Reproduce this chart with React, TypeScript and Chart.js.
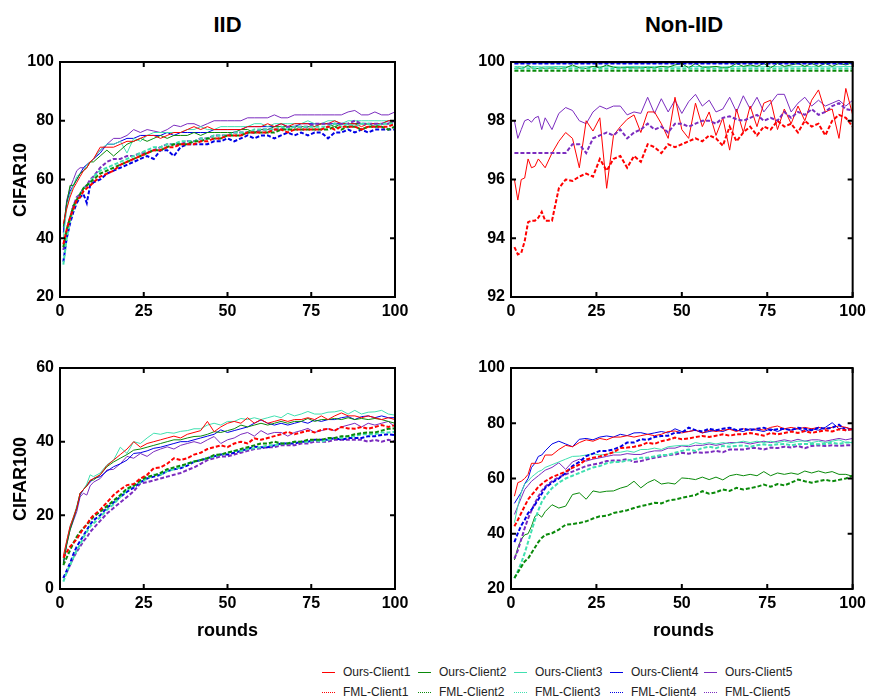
import React, { useEffect, useRef } from "react";
import { Chart, registerables } from "chart.js";
Chart.register(...registerables);

// ---------- rounds (x values) ----------
const ROUNDS = [1,2,3,4,5,6,7,8,9,10, 12,14,16,18,20,22,24,26,28,30, 32,34,36,38,40,42,44,46,48,50, 52,54,56,58,60,62,64,66,68,70, 72,74,76,78,80,82,84,86,88,90, 92,94,96,98,100];

// ---------- IID / CIFAR10 ----------
const iid10Ours1 = [45,50,54,57,59,61,63,64,66,67, 71,71,71,72,73,73,74,75,75,74, 75,76,76,77,78,77,78,77,77,77, 77,77,78,78,78,79,78,79,78,79, 79,79,78,79,79,80,79,79,79,78, 79,79,79,80,80];
const iid10Ours2 = [44,52,58,58,60,62,63,64,66,66, 68,70,68,70,72,73,74,73,74,75, 74,75,75,75,76,75,76,76,76,76, 76,77,77,76,77,77,78,78,78,78, 78,78,78,79,79,78,79,79,79,79, 79,78,79,79,80];
const iid10Ours3 = [40,50,55,58,61,62,63,65,66,67, 70,72,72,73,69,74,73,75,76,76, 76,76,76,77,77,78,77,77,78,78, 78,78,78,79,79,78,79,79,79,79, 79,80,79,79,80,80,79,80,80,80, 80,80,80,80,80];
const iid10Ours4 = [42,52,56,58,60,62,64,65,66,67, 69,72,72,73,74,74,75,75,75,75, 76,75,76,76,76,76,76,77,77,77, 77,77,78,78,78,78,78,79,78,78, 79,79,79,79,79,79,79,79,79,79, 79,79,79,80,80];
const iid10Ours5 = [42,53,57,60,63,64,64,65,66,67, 70,72,74,74,75,77,76,77,76.5,76, 77,78.5,78,79,79,78,79,80,80,80, 80,80,81,81,81,81,82,81,81,82, 82,82,82,82,82,82,82,83,83.5,82, 82,83,82,82,83];
const iid10Fml1 = [38,43,47,50,53,54,56,57,58,59, 61,62,63,65,66,67,68,69,70,70, 71,71,72,72,72,73,73,74,74,75, 75,75,76,76,76,76,77,77,76,77, 77,77,77,77,78,77,78,78,78,77, 78,78,78,78,79];
const iid10Fml2 = [37,43,47,51,53,55,57,58,59,60, 62,63,64,65,66,67,68,69,70,70, 71,72,72,72,73,73,74,74,74,75, 75,75,76,76,76,76,76,77,77,77, 77,77,77,77,77,78,77,78,78,77, 78,78,78,77,78];
const iid10Fml3 = [31,40,46,50,53,55,57,58,59,61, 63,64,65,66,67,68,69,70,71,71, 72,72,73,73,73,74,74,75,75,75, 76,76,76,77,77,77,77,78,77,78, 78,78,78,78,78,79,78,79,78,79, 79,78,79,79,79];
const iid10Fml4 = [32,40,45,49,52,54,55,52,58,59, 60,62,63,64,65,66,67,68,67,70, 70,68,71,72,72,72,72,73,73,74, 73,74,75,74,75,75,74,75,76,75, 76,75,76,76,74,76,76,77,76,77, 76,77,77,77,77];
const iid10Fml5 = [36,42,47,51,54,55,57,58,60,61, 64,66,67,67,68,68,69,69,70,71, 72,72,72,73,73,74,74,75,75,75, 76,76,76,76,77,77,77,77,78,78, 78,78,79,79,79,79,79,79,80,79, 79,79,79,79,80];

// ---------- Non-IID / CIFAR10 ----------
const non10Ours1 = [96.0,95.3,96.0,96.05,96.7,96.4,96.45,96.7,96.55,96.4, 96.9,97.3,97.6,97.4,96.4,98.0,97.65,98.1,95.7,97.5, 97.8,98.05,98.2,97.6,98.3,98.3,97.9,97.4,98.8,97.7, 97.4,98.6,97.8,98.3,97.5,98.1,97.0,98.4,97.6,98.5, 97.8,98.6,98.7,97.7,98.4,97.9,98.5,98.0,98.7,99.05, 98.3,98.4,97.4,99.1,98.2];
const non10Ours2 = [99.78,99.8,99.78,99.82,99.9,99.8,99.78,99.78,99.8,99.78, 99.8,99.78,99.8,99.9,99.8,99.78,99.85,99.8,99.9,99.82, 99.8,99.82,99.8,99.8,99.82,99.8,99.85,99.82,99.9,99.95, 99.8,99.95,99.82,99.82,99.85,99.8,99.82,99.95,99.85,99.9, 99.85,99.95,99.8,99.95,99.85,99.9,99.95,99.85,99.95,99.85, 99.95,99.85,99.95,99.9,99.98];
const non10Ours3 = [99.84,99.85,99.84,99.83,99.84,99.85,99.84,99.84,99.83,99.84, 99.84,99.85,99.84,99.84,99.83,99.84,99.85,99.84,99.84,99.84, 99.83,99.84,99.85,99.84,99.84,99.84,99.85,99.84,99.83,99.84, 99.84,99.85,99.84,99.84,99.84,99.83,99.84,99.85,99.84,99.84, 99.84,99.84,99.85,99.84,99.83,99.84,99.84,99.85,99.84,99.84, 99.84,99.83,99.84,99.85,99.84];
const non10Ours4 = [99.97,99.97,99.97,99.97,99.97,99.97,99.97,99.97,99.97,99.97, 99.97,99.97,99.97,99.97,99.97,99.97,99.97,99.97,99.97,99.97, 99.97,99.97,99.97,99.97,99.97,99.97,99.97,99.97,99.97,99.97, 99.97,99.97,99.97,99.97,99.97,99.97,99.97,99.97,99.97,99.97, 99.97,99.97,99.97,99.97,99.97,99.97,99.97,99.97,99.97,99.97, 99.97,99.97,99.97,99.97,99.97];
const non10Ours5 = [98.0,97.4,97.7,98.0,98.05,97.95,98.1,98.15,97.7,98.1, 97.7,98.25,98.45,98.35,98.0,97.9,98.3,98.5,98.4,98.5, 98.5,98.2,98.3,98.25,98.8,98.25,98.75,98.3,98.7,98.25, 98.65,98.9,98.5,98.7,98.3,98.4,98.8,98.3,98.85,98.4, 98.8,98.3,98.6,98.9,98.9,98.3,98.6,98.8,98.5,98.7, 98.5,98.6,98.7,98.5,98.7];
const non10Fml1 = [93.7,93.45,93.5,93.9,94.55,94.6,94.6,94.7,94.9,94.6, 94.6,95.7,96.0,95.95,96.1,96.2,96.1,96.7,96.3,96.7, 96.8,96.4,96.8,96.6,97.2,97.1,96.9,97.2,97.1,97.2, 97.3,97.4,97.3,97.5,97.4,97.15,97.8,97.3,97.6,97.8, 97.5,97.8,97.7,98.0,97.8,97.9,97.6,98.0,97.8,97.9, 97.5,98.0,98.2,98.1,97.8];
const non10Fml2 = [99.7,99.7,99.7,99.7,99.7,99.7,99.7,99.7,99.7,99.7, 99.7,99.7,99.7,99.7,99.7,99.7,99.7,99.7,99.7,99.7, 99.7,99.7,99.7,99.7,99.7,99.7,99.7,99.7,99.7,99.7, 99.7,99.7,99.7,99.7,99.7,99.7,99.7,99.7,99.7,99.7, 99.7,99.7,99.7,99.7,99.7,99.7,99.7,99.7,99.7,99.7, 99.7,99.7,99.7,99.7,99.7];
const non10Fml3 = [99.78,99.78,99.78,99.78,99.78,99.78,99.78,99.78,99.78,99.78, 99.78,99.78,99.78,99.78,99.78,99.78,99.78,99.78,99.78,99.78, 99.78,99.78,99.78,99.78,99.78,99.78,99.78,99.78,99.78,99.78, 99.78,99.78,99.78,99.78,99.78,99.78,99.78,99.78,99.78,99.78, 99.78,99.78,99.78,99.78,99.78,99.78,99.78,99.78,99.78,99.78, 99.78,99.78,99.78,99.78,99.78];
const non10Fml4 = [99.95,99.95,99.95,99.95,99.95,99.95,99.95,99.95,99.95,99.95, 99.95,99.95,99.95,99.95,99.95,99.95,99.95,99.95,99.95,99.95, 99.95,99.95,99.95,99.95,99.95,99.95,99.95,99.95,99.95,99.95, 99.95,99.95,99.95,99.95,99.95,99.95,99.95,99.95,99.95,99.95, 99.95,99.95,99.95,99.95,99.95,99.95,99.95,99.95,99.95,99.95, 99.95,99.95,99.95,99.95,99.95];
const non10Fml5 = [96.9,96.9,96.9,96.9,96.9,96.9,96.9,96.9,96.9,96.9, 96.9,96.9,96.9,97.2,97.2,96.9,97.4,97.5,97.6,97.5, 97.7,97.4,97.6,97.7,97.9,97.7,97.8,97.6,97.9,97.9, 97.8,97.9,98.0,98.0,97.9,98.1,98.15,98.05,98.0,98.1, 98.2,98.0,98.1,98.0,98.3,98.1,98.3,98.2,98.4,98.2, 98.3,98.5,98.6,98.4,98.35];

// ---------- IID / CIFAR100 ----------
const iid100Ours1 = [9,13,17,19.5,22,26,27,28,29.5,30, 31,33.5,35,36.5,38,40,38.5,39.5,40,40.5, 41,41.5,41,42,42.5,43,45.5,42.7,44,45, 45.5,45,46.5,45,46,45,45.5,46,45.5,46, 46,46.5,46,47,46,47,47.8,47,47,46.5, 47,46.5,46,46.5,46];
const iid100Ours2 = [7,12,16,19,22,26,27,28,29.5,29.6, 31,33.2,34.5,35.5,36.5,37.7,38,38.5,39,39.5, 40,40.5,40.5,41,41.4,41.5,42,42.7,42.5,43, 43.5,44.5,44,44.5,45,44.5,45,45.5,45,45.5, 45.5,46.3,45.5,46,46,46.3,46,46.5,46,46.3, 46,46.3,46,45.5,45];
const iid100Ours3 = [8,13,17,19.5,22.5,26,27,28.5,31,30.5, 31.5,33.7,35,38.5,36.8,40,39.5,41,42.3,42, 42.5,42.3,42.8,43,43.5,43.5,44.5,45,44.5,45.5, 45.5,46.3,46,46.5,46,46.5,47,46.5,47.7,47, 47.5,48.2,47.5,47.5,48,48.1,48.5,47.5,48.5,47.5, 48,48.1,48.5,47.5,47.2];
const iid100Ours4 = [7,12.5,16.5,19,22,25.5,27,28,29,30, 30.5,32,33.2,34,35,36.8,37,37.5,38.2,38.5, 39,39.5,40,40,40.5,41,41.5,42,43.2,42.5, 43,43.5,44,45,45.9,45,44.5,45,44.5,45, 45.5,45,45.9,45.5,46,46,46.5,46.8,46,46.8, 47,46.5,47,46.5,46.5];
const iid100Ours5 = [7,12,16,18.5,21,25,26,25.5,28,29, 30,32.3,32.5,34,36,35.5,36.8,36,37.3,38, 38.6,38,39,39.5,40,39.5,40.5,41.4,39.5,40.5, 41,42,42.5,41.5,43,42,42.5,42.5,41.5,42.5, 43,43.6,42.5,43,43.5,43,44,44.5,45,44, 45,44.5,45,45.5,44];
const iid100Fml1 = [8.5,10,11.5,12.5,13.5,15,16.5,17.5,19,20, 21.5,23.5,25.5,27,28.2,28.5,30,31,32.8,33, 34,35.5,35,35.5,36.5,37,38,38.5,39,38.5, 39.5,40,39.5,40.9,40.5,41,41.5,42,42.7,42, 42.5,43,42.5,43.2,43.5,43,44,43.6,43.5,44, 43.5,44,44.5,44,44.5];
const iid100Fml2 = [6.5,8.5,10.5,12.5,14.2,15.5,16.5,17.5,18.5,19.6, 21,22.5,24,25.5,27.3,28,29.5,30.5,30.8,31.5, 32.5,33,33.5,34,34.6,35,35.5,36.4,36.5,37, 37.5,38,38.5,39,39.5,39.5,40,39.5,39.5,40, 40,40.5,40.5,40.5,41,41,41.5,41.5,42,42.3, 42.5,42.5,43,43.5,43.6];
const iid100Fml3 = [2,4.5,6.5,8.5,10.6,12,14,15.5,17,17.8, 19.5,21.5,23,25,26.9,28,29,30,31,31, 32,32.5,33,34,34.6,35,35.5,36,36.5,37, 37.5,37.5,38,38.2,38.5,39,39,39.5,39.5,40, 40,40,40.5,40,40.5,41,41,41.5,41.5,42, 42,42,42.5,42.5,42.7];
const iid100Fml4 = [3,5,7,9.5,11.5,13,14.5,16,17.5,18.7, 20,22,23.5,25,26.4,27.5,29,30,30.5,31, 32,32.5,32.8,33.5,34.5,35,35.5,36,36.5,36.5, 37,37.5,38,38.6,38.5,38.5,39,39.5,39.5,39.5, 40,40,40.5,40.5,40.5,41,40.5,41,41,41, 41.5,41.5,41.8,42,41.8];
const iid100Fml5 = [3,4.5,6.5,8.5,10.1,11.5,13,14,15.5,16.5, 18.5,20.5,22,23.5,25,26.5,28.7,29,29.5,30, 30.5,31,31.5,32.3,33,34,35,35.5,36,36, 36.5,37,37.5,38,38.2,38.5,38.5,39,39,39, 39.5,39.5,40,40,40,40.5,40.5,40.5,40.5,40.5, 40,40.5,40,40.5,40];

// ---------- Non-IID / CIFAR100 ----------
const non100Ours1 = [53.6,58.5,59,60,61.5,65.5,65.5,65.5,66,68.5, 68.5,70.5,72,71.5,73,74,73.5,74.5,74,75, 75,75.5,75,75.5,76,75.5,76,77,77.2,76.5, 77,77.5,76.5,77.5,77,77.5,77.8,77,78,77.5, 78,77.5,78.5,79,78,78.5,78,78.5,78,78.5, 78,78.5,79,78.5,77.8];
const non100Ours2 = [30.5,35,38,39.6,40,42.7,46.3,47,46,48, 50.5,49.3,50,54.2,54.8,52.5,55.5,55,55.4,55.5, 56.5,57.2,59,56.6,58.5,59.6,58,58.4,58,60.2, 60,59.6,60.5,59.6,60.5,59.5,61,61.5,61,61.5, 61,62.5,61,62,61.5,62,61.5,62.7,62,62.7, 62,62.5,61.5,61.5,60.8];
const non100Ours3 = [44,50,55,58,59,60.5,61.5,62.5,63,64, 65,66,67,68,68.1,68.5,69,68.5,68.7,69.5, 69.5,70,69.5,70.5,70.5,71,70.5,71.5,71.8,72, 72,73,72.5,73,72.5,73,72.5,73,73.5,73, 73.5,73,73.5,73,73.5,73,73.5,73.6,73,73.5, 73,73.5,74,73,73];
const non100Ours4 = [51,53,55,58,60,64,65.5,68,68.5,70, 72.5,73.5,72.5,71.5,74.2,74.5,74,75,75.4,75, 76,75.5,76.5,76.6,76,76.5,77,76.5,78,77, 77,77.5,76.5,77,77.5,77,78,77.5,77,78, 77.5,77,78,77,78,77.5,78,77,78,77.5, 78.5,80.2,78,78.5,77.5];
const non100Ours5 = [47,50,53,56,57.5,59,60,61,62,63, 64,65.7,63.3,66,67,66.3,67,67.5,68,68.5, 68.5,69,68.7,68.7,69.5,70,70,71,71,71.8, 71.5,72,72,72.5,72,72.5,73,73,73,72.5, 73,73.5,73,73.5,74,73.5,74.2,73.5,74,74, 73.5,74,74.5,74,74.5];
const non100Fml1 = [42.7,45,47.5,50,52.4,54,55.4,57,58,59, 60.5,61.5,62.5,63.9,65,66.9,67.5,68,68.7,69.5, 71,71.2,71.5,72,73,72.5,73.5,74,74.8,74.2, 74.5,75,75.4,75,75.5,76,75.5,76,76,76.5, 76,75.5,76.5,76,76.5,77,76.5,77.2,76.5,77, 77.5,77,77.8,77.5,77.8];
const non100Fml2 = [24,26,28,30,31,33,35,37,38.5,39.6, 40.2,41.5,43.3,43.5,43.9,44.5,45.5,46.3,46.5,47.5, 48,48.5,49.3,50,50.5,51.2,51,52,52.4,53, 53.5,54,55.4,54.5,55,56,55.5,56.6,56,56.5, 57,57.8,57,58,57.5,58.5,59.6,59,58.5,59, 59.5,59,59.5,60,61];
const non100Fml3 = [23.9,26.5,29.5,33,37,41,45,48.5,51.5,53.5, 56.5,58.5,60,61,62,63,64,64.5,65.5,66, 66,66.5,67,67.5,67.5,68,68.5,68.5,69.3,70, 70.5,70,71,71.5,71,71.8,71.5,71.8,72,71.5, 72,72.4,72,72.4,72.5,72,72.4,72.5,72.5,72.4, 72.5,73,72.5,73,73];
const non100Fml4 = [37,40.2,43,45,47.5,48.7,50.5,52.4,54.5,56.6, 58.5,60,62,64.5,66,68.1,69,70,70,70.5, 71.5,73,73,74.2,74,75,75.4,75.5,76.6,76.6, 78.4,77.5,77,78,77.5,78,78.4,77.5,78,77.5, 78,78.4,77.5,77.8,78,77.5,78.4,78,77.5,78.4, 78,78.4,79.5,77.5,78];
const non100Fml5 = [31,34,38,42,45.5,48.5,51,53.5,55.5,57, 59,60.5,61.5,62.5,63.5,64.5,65.1,65.5,66.3,66.5, 66.5,67,66,66.3,67,67.5,68,68.5,68.7,69.3, 69,69.5,69.3,69.5,70,69.5,70.5,70.5,70.5,71, 71,70.5,71.2,71,71.5,71.2,71.8,71,71.8,72, 71.8,72,71.8,72,72];

// ---------- ticks / labels ----------
const X_TICK_STEP = 25;
const CLIENTS = ["Client1", "Client2", "Client3", "Client4", "Client5"];
const COLORS = ["#ff0000", "#0a8a0a", "#40e0b0", "#0000e6", "#7b2cbf"];
const FONT = "'Liberation Sans', Arial, Helvetica, sans-serif";

type Spec = {
  ours: number[][];
  fml: number[][];
  yMin: number; yMax: number; yStep: number;
  left: number; top: number; width: number; height: number;
  yAxisWidth: number; padTop: number; padRight: number; xAxisHeight: number;
};

const framePlugin = {
  id: "frame",
  afterDraw(chart: any) {
    const { ctx, chartArea: a, scales } = chart;
    const xs = scales.x, ys = scales.y;
    const tl = 5;
    ctx.save();
    ctx.strokeStyle = "#000";
    ctx.lineWidth = 2;
    ctx.beginPath();
    xs.ticks.forEach((t: any) => {
      const px = xs.getPixelForValue(t.value);
      ctx.moveTo(px, a.bottom); ctx.lineTo(px, a.bottom - tl);
      ctx.moveTo(px, a.top); ctx.lineTo(px, a.top + tl);
    });
    ys.ticks.forEach((t: any) => {
      const py = ys.getPixelForValue(t.value);
      ctx.moveTo(a.left, py); ctx.lineTo(a.left + tl, py);
      ctx.moveTo(a.right, py); ctx.lineTo(a.right - tl, py);
    });
    ctx.stroke();
    ctx.strokeRect(a.left, a.top, a.right - a.left, a.bottom - a.top);
    ctx.restore();
  },
};

function Panel({ spec }: { spec: Spec }) {
  const ref = useRef<HTMLCanvasElement | null>(null);
  useEffect(() => {
    if (!ref.current) return;
    const toPts = (vals: number[]) => ROUNDS.map((r, k) => ({ x: r, y: vals[k] }));
    const fmlSets = spec.fml.map((vals, i) => ({
      label: "FML-" + CLIENTS[i],
      data: toPts(vals),
      borderColor: COLORS[i],
      borderWidth: 2,
      borderDash: [4, 2],
      pointRadius: 0,
      fill: false,
      tension: 0,
    }));
    const oursSets = spec.ours.map((vals, i) => ({
      label: "Ours-" + CLIENTS[i],
      data: toPts(vals),
      borderColor: COLORS[i],
      borderWidth: 1,
      pointRadius: 0,
      fill: false,
      tension: 0,
    }));
    const tickFont = { family: FONT, size: 16, weight: "bold" as const };
    const chart = new Chart(ref.current, {
      type: "line",
      data: { datasets: [...fmlSets, ...oursSets] as any },
      options: {
        animation: false,
        responsive: false,
        maintainAspectRatio: false,
        layout: { padding: { left: 0, top: spec.padTop, right: spec.padRight, bottom: 0 } },
        plugins: { legend: { display: false }, tooltip: { enabled: false }, title: { display: false } },
        scales: {
          x: {
            type: "linear",
            min: 0, max: 100,
            ticks: { stepSize: X_TICK_STEP, font: tickFont, color: "#000", padding: 5, maxRotation: 0, autoSkip: false },
            grid: { display: false, drawTicks: false },
            border: { display: false },
            afterFit: (s: any) => { s.height = spec.xAxisHeight; },
          },
          y: {
            type: "linear",
            min: spec.yMin, max: spec.yMax,
            ticks: { stepSize: spec.yStep, font: tickFont, color: "#000", padding: 6 },
            grid: { display: false, drawTicks: false },
            border: { display: false },
            afterFit: (s: any) => { s.width = spec.yAxisWidth; },
          },
        },
      } as any,
      plugins: [framePlugin],
    });
    return () => chart.destroy();
  }, [spec]);
  return (
    <canvas
      ref={ref}
      width={spec.width}
      height={spec.height}
      style={{ position: "absolute", left: spec.left, top: spec.top, width: spec.width, height: spec.height }}
    />
  );
}

const SPECS: Spec[] = [
  { ours: [iid10Ours1, iid10Ours2, iid10Ours3, iid10Ours4, iid10Ours5], fml: [iid10Fml1, iid10Fml2, iid10Fml3, iid10Fml4, iid10Fml5],
    yMin: 20, yMax: 100, yStep: 20, left: 0, top: 40, width: 420, height: 285, yAxisWidth: 60, padTop: 22, padRight: 25, xAxisHeight: 28 },
  { ours: [non10Ours1, non10Ours2, non10Ours3, non10Ours4, non10Ours5], fml: [non10Fml1, non10Fml2, non10Fml3, non10Fml4, non10Fml5],
    yMin: 92, yMax: 100, yStep: 2, left: 440, top: 40, width: 431, height: 285, yAxisWidth: 71, padTop: 22, padRight: 15, xAxisHeight: 28 },
  { ours: [iid100Ours1, iid100Ours2, iid100Ours3, iid100Ours4, iid100Ours5], fml: [iid100Fml1, iid100Fml2, iid100Fml3, iid100Fml4, iid100Fml5],
    yMin: 0, yMax: 60, yStep: 20, left: 0, top: 345, width: 420, height: 275, yAxisWidth: 60, padTop: 23, padRight: 25, xAxisHeight: 31 },
  { ours: [non100Ours1, non100Ours2, non100Ours3, non100Ours4, non100Ours5], fml: [non100Fml1, non100Fml2, non100Fml3, non100Fml4, non100Fml5],
    yMin: 20, yMax: 100, yStep: 20, left: 440, top: 345, width: 431, height: 275, yAxisWidth: 71, padTop: 23, padRight: 15, xAxisHeight: 31 },
];

function Label({ text, cx, cy, size, rotate }: { text: string; cx: number; cy: number; size: number; rotate?: boolean }) {
  const w = 220, h = size + 8;
  return (
    <div
      style={{
        position: "absolute", left: cx - w / 2, top: cy - h / 2, width: w, height: h, lineHeight: h + "px",
        textAlign: "center", fontFamily: FONT, fontWeight: "bold", fontSize: size, color: "#000",
        transform: rotate ? "rotate(-90deg)" : undefined, whiteSpace: "nowrap",
      }}
    >
      {text}
    </div>
  );
}

const LEGEND_X = [322, 418, 514, 610, 704];
const LEGEND_ROWS = [672, 692];

export default function App() {
  return (
    <div style={{ position: "absolute", left: 0, top: 0, width: 871, height: 700, background: "#fff", overflow: "hidden" }}>
      {SPECS.map((s, i) => <Panel key={i} spec={s} />)}
      <Label text="IID" cx={227.5} cy={25} size={22} />
      <Label text="Non-IID" cx={684} cy={25} size={22} />
      <Label text="CIFAR10" cx={20} cy={179.5} size={18} rotate />
      <Label text="CIFAR100" cx={20} cy={478.5} size={18} rotate />
      <Label text="rounds" cx={227.5} cy={630} size={18} />
      <Label text="rounds" cx={683.5} cy={630} size={18} />
      {LEGEND_ROWS.map((ry, row) =>
        CLIENTS.map((c, i) => (
          <div key={row + "-" + i} style={{ position: "absolute", left: LEGEND_X[i], top: ry - 8, height: 16, width: 100 }}>
            <div style={{ position: "absolute", left: 0, top: 8, width: 13, height: 0,
              borderTop: row === 0 ? `1px solid ${COLORS[i]}` : `1px dotted ${COLORS[i]}` }} />
            <div style={{ position: "absolute", left: 21, top: 0, height: 16, lineHeight: "16px", fontFamily: FONT,
              fontSize: 12, color: "#222", whiteSpace: "nowrap" }}>
              {(row === 0 ? "Ours-" : "FML-") + c}
            </div>
          </div>
        ))
      )}
    </div>
  );
}
